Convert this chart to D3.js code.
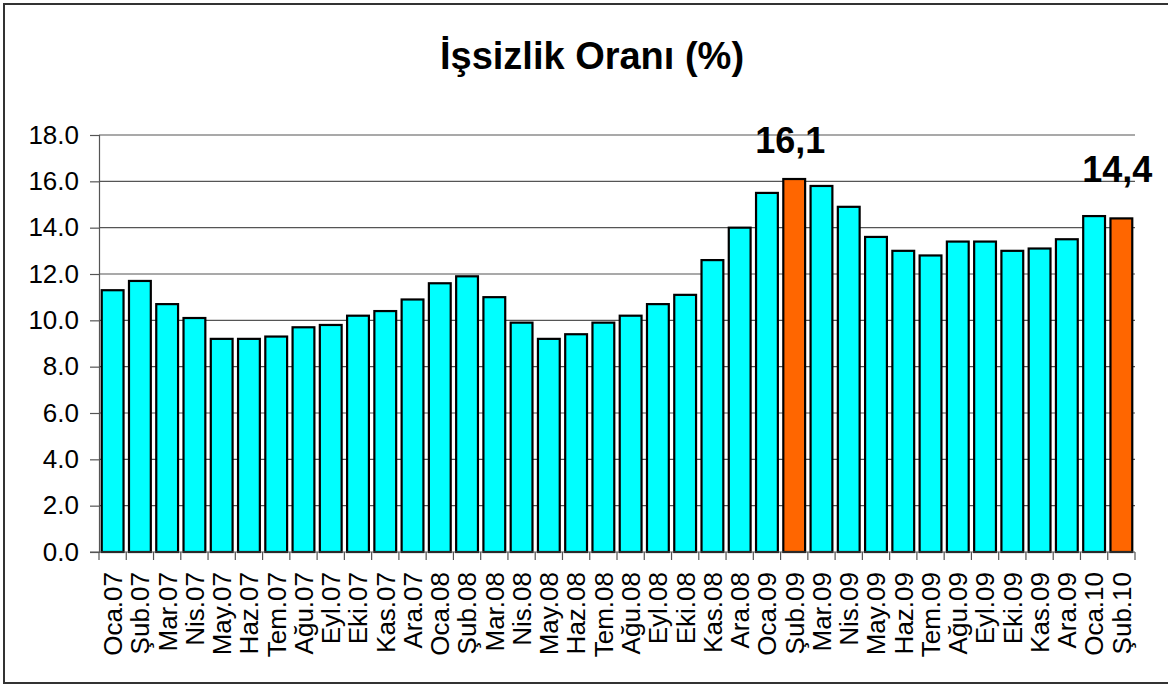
<!DOCTYPE html>
<meta charset="utf-8">

<!-- Load d3.js -->
<script src="https://d3js.org/d3.v7.min.js"></script>

<style>
  body { margin: 0; background: #fff; }
  text { font-family: "Liberation Sans", Arial, sans-serif; }
</style>

<!-- Create a div where the graph will take place -->
<div id="my_dataviz"></div>

<script>

  // months (x categories)
  const months = [
    "Oca.07", "Şub.07", "Mar.07", "Nis.07", "May.07", "Haz.07", "Tem.07", "Ağu.07", "Eyl.07", "Eki.07", "Kas.07", "Ara.07",
    "Oca.08", "Şub.08", "Mar.08", "Nis.08", "May.08", "Haz.08", "Tem.08", "Ağu.08", "Eyl.08", "Eki.08", "Kas.08", "Ara.08",
    "Oca.09", "Şub.09", "Mar.09", "Nis.09", "May.09", "Haz.09", "Tem.09", "Ağu.09", "Eyl.09", "Eki.09", "Kas.09", "Ara.09",
    "Oca.10", "Şub.10"
  ];

  // unemployment rate (%)
  const rates = [
    11.3, 11.7, 10.7, 10.1, 9.2, 9.2, 9.3, 9.7, 9.8, 10.2, 10.4, 10.9,
    11.6, 11.9, 11.0, 9.9, 9.2, 9.4, 9.9, 10.2, 10.7, 11.1, 12.6, 14.0,
    15.5, 16.1, 15.8, 14.9, 13.6, 13.0, 12.8, 13.4, 13.4, 13.0, 13.1, 13.5,
    14.5, 14.4
  ];

  // highlighted months and their labels
  const highlighted = ["Şub.09", "Şub.10"];
  const highlightLabels = ["16,1", "14,4"];

  const yTicks = [0, 2, 4, 6, 8, 10, 12, 14, 16, 18];

  const W = 1168, H = 686;
  const margin = { top: 135, right: 33, bottom: 134, left: 99 },
    width = W - margin.left - margin.right,
    height = H - margin.top - margin.bottom;

  const root = d3.select("#my_dataviz")
    .append("svg")
    .attr("width", W)
    .attr("height", H);

  // outer frame
  root.append("rect")
    .attr("x", 4).attr("y", 4)
    .attr("width", W + 10).attr("height", 679)
    .attr("fill", "none")
    .attr("stroke", "#333")
    .attr("stroke-width", 2);

  // title
  root.append("text")
    .attr("x", 592)
    .attr("y", 69)
    .attr("text-anchor", "middle")
    .style("font-size", "38px")
    .style("font-weight", "bold")
    .text("İşsizlik Oranı (%)");

  const svg = root.append("g")
    .attr("transform", `translate(${margin.left},${margin.top})`);

  const x = d3.scaleBand()
    .domain(months)
    .range([0, width])
    .paddingInner(0.2)
    .paddingOuter(0.1);

  const y = d3.scaleLinear()
    .domain([0, 18])
    .range([height, 0]);

  // gridlines
  svg.append("g")
    .selectAll("line")
    .data(yTicks.slice(1))
    .join("line")
    .attr("x1", 0).attr("x2", width)
    .attr("y1", d => y(d)).attr("y2", d => y(d))
    .attr("stroke", "#555")
    .attr("stroke-width", 1.2);

  // y axis
  const yAxis = svg.append("g")
    .call(d3.axisLeft(y).tickValues(yTicks).tickFormat(d3.format(".1f")).tickSize(9).tickPadding(11));
  yAxis.select(".domain").attr("stroke", "#555").attr("stroke-width", 1.2);
  yAxis.selectAll(".tick line").attr("stroke", "#555").attr("stroke-width", 1.2);
  yAxis.selectAll("text")
    .style("font-size", "26px")
    .style("font-family", "Liberation Sans, Arial, sans-serif")
    .attr("fill", "#000");

  // bars
  svg.append("g")
    .selectAll("rect")
    .data(months)
    .join("rect")
    .attr("x", d => x(d))
    .attr("y", (d, i) => y(rates[i]))
    .attr("width", x.bandwidth())
    .attr("height", (d, i) => height - y(rates[i]))
    .attr("fill", d => highlighted.includes(d) ? "#FF6600" : "#00FFFF")
    .attr("stroke", "#000")
    .attr("stroke-width", 2.2);

  // x axis: baseline, ticks at category boundaries, rotated labels
  const step = x.step();
  const half = step * x.paddingInner() / 2;
  const xg = svg.append("g").attr("transform", `translate(0,${height})`);
  xg.append("line")
    .attr("x1", -9).attr("x2", width)
    .attr("stroke", "#555").attr("stroke-width", 1.2);
  xg.selectAll(".xtick")
    .data(months.concat(["end"]))
    .join("line")
    .attr("class", "xtick")
    .attr("x1", (d, i) => i < months.length ? x(d) - half : x(months[i - 1]) + x.bandwidth() + half)
    .attr("x2", (d, i) => i < months.length ? x(d) - half : x(months[i - 1]) + x.bandwidth() + half)
    .attr("y1", 0).attr("y2", 8)
    .attr("stroke", "#555").attr("stroke-width", 1.2);
  xg.selectAll(".xlab")
    .data(months)
    .join("text")
    .attr("class", "xlab")
    .attr("transform", d => `translate(${x(d) + x.bandwidth() / 2},20) rotate(-90)`)
    .attr("dy", "0.36em")
    .attr("text-anchor", "end")
    .style("font-size", "26px")
    .text(d => d);

  // value labels on highlighted bars
  const labelLift = [26, 36];
  svg.append("g")
    .selectAll("text")
    .data(highlighted)
    .join("text")
    .attr("x", d => x(d) + x.bandwidth() / 2 - 4)
    .attr("y", (d, i) => y(rates[months.indexOf(d)]) - labelLift[i])
    .attr("text-anchor", "middle")
    .style("font-size", "36px")
    .style("font-weight", "bold")
    .text((d, i) => highlightLabels[i]);

</script>
